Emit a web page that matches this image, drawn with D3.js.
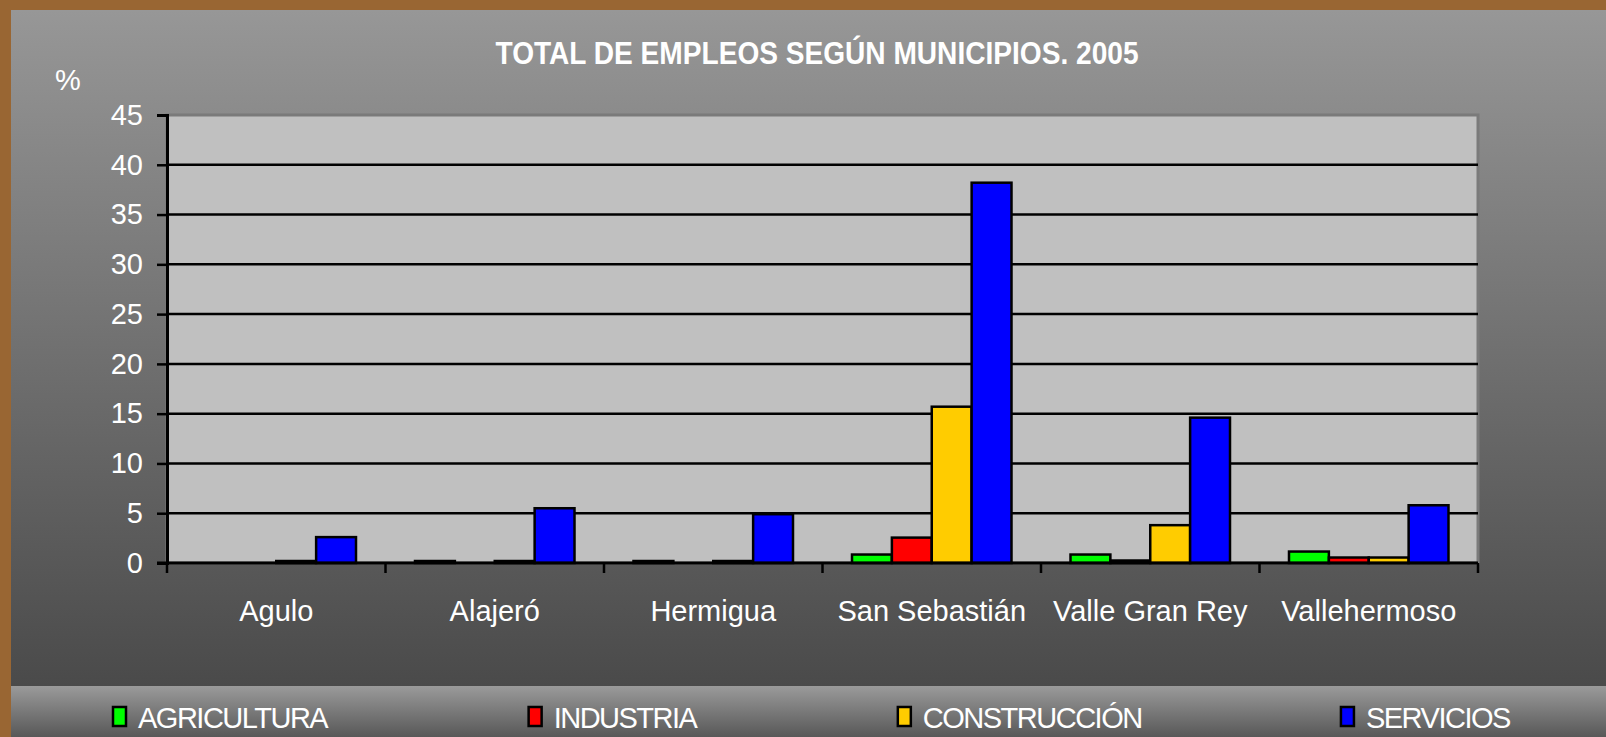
<!DOCTYPE html>
<html>
<head>
<meta charset="utf-8">
<script src="https://cdn.jsdelivr.net/npm/d3@7"></script>
<style>
  html, body { margin: 0; padding: 0; background: #996633; }
  svg { display: block; font-family: "Liberation Sans", Arial, sans-serif; }
</style>
</head>
<body>
<div id="chart"></div>
<script>
// data
const categories = ['Agulo', 'Alajeró', 'Hermigua', 'San Sebastián', 'Valle Gran Rey', 'Vallehermoso'];
const seriesNames = ['AGRICULTURA', 'INDUSTRIA', 'CONSTRUCCIÓN', 'SERVICIOS'];
const agricultura = [0, 0.2, 0.2, 0.85, 0.85, 1.15];
const industria = [0, 0, 0, 2.55, 0.25, 0.55];
const construccion = [0.2, 0.2, 0.2, 15.7, 3.8, 0.55];
const servicios = [2.6, 5.5, 4.9, 38.2, 14.6, 5.8];
const yTicks = [0, 5, 10, 15, 20, 25, 30, 35, 40, 45];
const colors = ['#00ff00', '#ff0000', '#ffcc00', '#0000ff'];

const seriesValues = [agricultura, industria, construccion, servicios];
const rows = categories.map((c, i) => ({
    name: c,
    values: seriesNames.map((s, j) => ({ key: s, value: seriesValues[j][i] }))
}));

const W = 1606, H = 737;
const plot = { left: 167, right: 1478, top: 115, bottom: 563 };

const svg = d3.select('#chart').append('svg')
    .attr('width', W)
    .attr('height', H);

const defs = svg.append('defs');
const bgGrad = defs.append('linearGradient').attr('id', 'bg').attr('x1', 0).attr('y1', 0).attr('x2', 0).attr('y2', 1);
bgGrad.append('stop').attr('offset', 0).attr('stop-color', '#979797');
bgGrad.append('stop').attr('offset', 1).attr('stop-color', '#4a4a4a');
const lgGrad = defs.append('linearGradient').attr('id', 'lg').attr('x1', 0).attr('y1', 0).attr('x2', 0).attr('y2', 1);
lgGrad.append('stop').attr('offset', 0).attr('stop-color', '#9a9a9a');
lgGrad.append('stop').attr('offset', 1).attr('stop-color', '#585858');

// frame + backgrounds
svg.append('rect').attr('width', W).attr('height', H).attr('fill', '#996633');
svg.append('rect').attr('x', 11).attr('y', 10).attr('width', W - 11).attr('height', 676).attr('fill', 'url(#bg)');
svg.append('rect').attr('x', 11).attr('y', 686).attr('width', W - 11).attr('height', H - 686).attr('fill', 'url(#lg)');

// scales
const x0 = d3.scaleBand()
    .domain(categories)
    .range([plot.left, plot.right])
    .paddingInner(0.27)
    .paddingOuter(0.135);

const x1 = d3.scaleBand()
    .domain(seriesNames)
    .range([0, x0.bandwidth()]);

const y = d3.scaleLinear()
    .domain([0, 45])
    .range([plot.bottom, plot.top]);

const color = d3.scaleOrdinal().domain(seriesNames).range(colors);

// plot area
svg.append('rect')
    .attr('x', plot.left)
    .attr('y', plot.top)
    .attr('width', plot.right - plot.left)
    .attr('height', plot.bottom - plot.top)
    .attr('fill', '#c0c0c0')
    .attr('stroke', '#7a7a7a')
    .attr('stroke-width', 3);

// grid lines
svg.append('g')
    .selectAll('line')
    .data(yTicks.filter(d => d > 0 && d < 45))
    .enter()
    .append('line')
    .attr('x1', plot.left)
    .attr('x2', plot.right)
    .attr('y1', d => y(d))
    .attr('y2', d => y(d))
    .attr('stroke', '#000')
    .attr('stroke-width', 2.5);

// bars
const groups = svg.append('g')
    .selectAll('g')
    .data(rows)
    .enter()
    .append('g')
    .attr('transform', d => `translate(${x0(d.name)},0)`);

groups.selectAll('rect')
    .data(d => d.values.filter(v => v.value > 0))
    .enter()
    .append('rect')
    .attr('x', d => x1(d.key))
    .attr('y', d => y(d.value))
    .attr('width', x1.bandwidth())
    .attr('height', d => y(0) - y(d.value))
    .attr('fill', d => color(d.key))
    .attr('stroke', '#000')
    .attr('stroke-width', 2.5);

// y axis
const yAxis = svg.append('g')
    .attr('transform', `translate(${plot.left},0)`)
    .call(d3.axisLeft(y).tickValues(yTicks).tickSize(10).tickPadding(14));
yAxis.select('.domain').attr('stroke', '#000').attr('stroke-width', 3);
yAxis.selectAll('.tick line').attr('stroke', '#000').attr('stroke-width', 2.5);
yAxis.selectAll('.tick text')
    .attr('fill', '#fff')
    .style('font-size', '29px')
    .style('font-family', '"Liberation Sans", Arial, sans-serif');

// x axis (labels at category centres)
const xAxis = svg.append('g')
    .attr('transform', `translate(0,${plot.bottom})`)
    .call(d3.axisBottom(x0).tickSize(0).tickPadding(37));
xAxis.select('.domain').remove();
xAxis.selectAll('.tick text')
    .attr('fill', '#fff')
    .style('font-size', '29px')
    .style('font-family', '"Liberation Sans", Arial, sans-serif');

// bottom axis line + category boundary ticks
svg.append('line')
    .attr('x1', plot.left - 10)
    .attr('x2', plot.right)
    .attr('y1', plot.bottom)
    .attr('y2', plot.bottom)
    .attr('stroke', '#000')
    .attr('stroke-width', 3);
svg.append('g')
    .selectAll('line')
    .data(d3.range(categories.length + 1))
    .enter()
    .append('line')
    .attr('x1', i => x0.range()[0] + i * x0.step())
    .attr('x2', i => x0.range()[0] + i * x0.step())
    .attr('y1', plot.bottom)
    .attr('y2', plot.bottom + 10)
    .attr('stroke', '#000')
    .attr('stroke-width', 2.5);

// title
svg.append('text')
    .attr('x', 817)
    .attr('y', 64)
    .attr('text-anchor', 'middle')
    .attr('fill', '#fff')
    .attr('font-weight', 'bold')
    .attr('font-size', 32)
    .attr('textLength', 643)
    .attr('lengthAdjust', 'spacingAndGlyphs')
    .text('TOTAL DE EMPLEOS SEGÚN MUNICIPIOS. 2005');

// unit label
svg.append('text')
    .attr('x', 68)
    .attr('y', 90)
    .attr('text-anchor', 'middle')
    .attr('fill', '#fff')
    .attr('font-size', 29)
    .text('%');

// legend
const legend = svg.append('g');
const items = legend.selectAll('g')
    .data(seriesNames)
    .enter()
    .append('g');
items.append('rect')
    .attr('x', 0)
    .attr('y', 707)
    .attr('width', 13)
    .attr('height', 19)
    .attr('fill', d => color(d))
    .attr('stroke', '#000')
    .attr('stroke-width', 2.5);
items.append('text')
    .attr('x', 25)
    .attr('y', 728)
    .attr('fill', '#fff')
    .attr('font-size', 29)
    .attr('letter-spacing', -1.5)
    .text(d => d);

// spread legend items between x=113 and x=1511
const widths = [];
items.each(function () { widths.push(this.getBBox().width); });
const legStart = 113, legEnd = 1511;
const gap = (legEnd - legStart - d3.sum(widths)) / (seriesNames.length - 1);
let cx = legStart;
items.each(function (d, i) {
    d3.select(this).attr('transform', `translate(${cx},0)`);
    cx += widths[i] + gap;
});
</script>
</body>
</html>
